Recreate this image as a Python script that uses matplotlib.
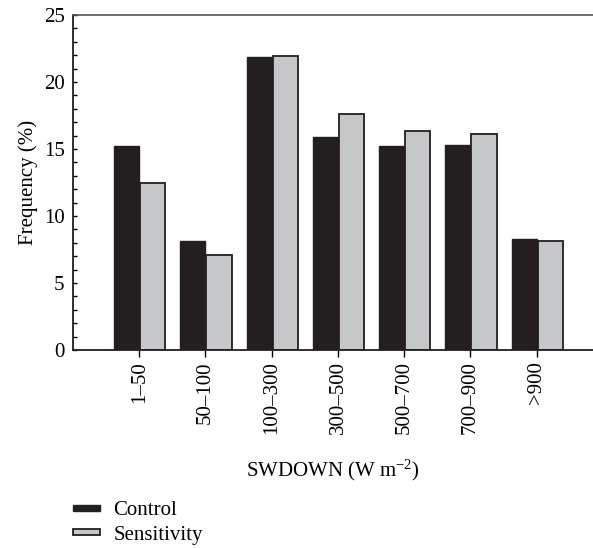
import numpy as np
import matplotlib
matplotlib.use("Agg")
from matplotlib import pyplot as plt
from matplotlib.ticker import MultipleLocator

plt.rcParams['font.family'] = ['Liberation Serif', 'DejaVu Serif']
plt.rcParams['mathtext.fontset'] = 'custom'
plt.rcParams['mathtext.rm'] = 'Liberation Serif'
plt.rcParams['mathtext.it'] = 'Liberation Serif:italic'

# data
categories = ['1–50', '50–100', '100–300', '300–500', '500–700', '700–900', '>900']
control = [15.25, 8.13, 21.9, 15.92, 15.2, 15.27, 8.3]
sensitivity = [12.46, 7.09, 21.96, 17.6, 16.37, 16.14, 8.16]

fig = plt.figure(figsize=(5.93, 5.48), dpi=100)
ax = fig.add_axes([73 / 593, 1 - 350 / 548, 1 - 73 / 593, (350 - 15) / 548])

x = np.arange(1, len(categories) + 1)
w = 0.38
ax.bar(x - w, control, width=w, align='edge', color='#231f20', edgecolor='#231f20',
       linewidth=1.0, label='Control')
ax.bar(x + 0.015, sensitivity, width=w, align='edge', color='#c6c7c8', edgecolor='#231f20',
       linewidth=1.3, label='Sensitivity')

ax.set_xlim(0, 7.85)
ax.set_ylim(0, 25)
ax.set_xticks(x)
ax.set_xticklabels(categories, rotation=90, fontsize=15)
ax.yaxis.set_major_locator(MultipleLocator(5))
ax.yaxis.set_minor_locator(MultipleLocator(1))
ax.tick_params(axis='y', which='both', direction='in', length=3, width=1, labelsize=15, pad=6)
ax.tick_params(axis='x', direction='out', length=5, width=1, pad=3)

ax.spines['right'].set_visible(False)
for s in ['left', 'bottom']:
    ax.spines[s].set_linewidth(1.3)
    ax.spines[s].set_color('#231f20')
ax.spines['top'].set_linewidth(1.2)
ax.spines['top'].set_color('#555555')

ax.set_ylabel('Frequency (%)', fontsize=15, labelpad=4)
ax.set_xlabel('SWDOWN (W m$^{-2}$)', fontsize=15, labelpad=17)

fig.legend(loc='upper left', bbox_to_anchor=(65 / 593, 1 - 493 / 548), frameon=False,
           fontsize=15, handlelength=1.3, handleheight=0.05, handletextpad=0.62,
           labelspacing=0.25, borderaxespad=0)

fig.savefig('out.png', dpi=100)
